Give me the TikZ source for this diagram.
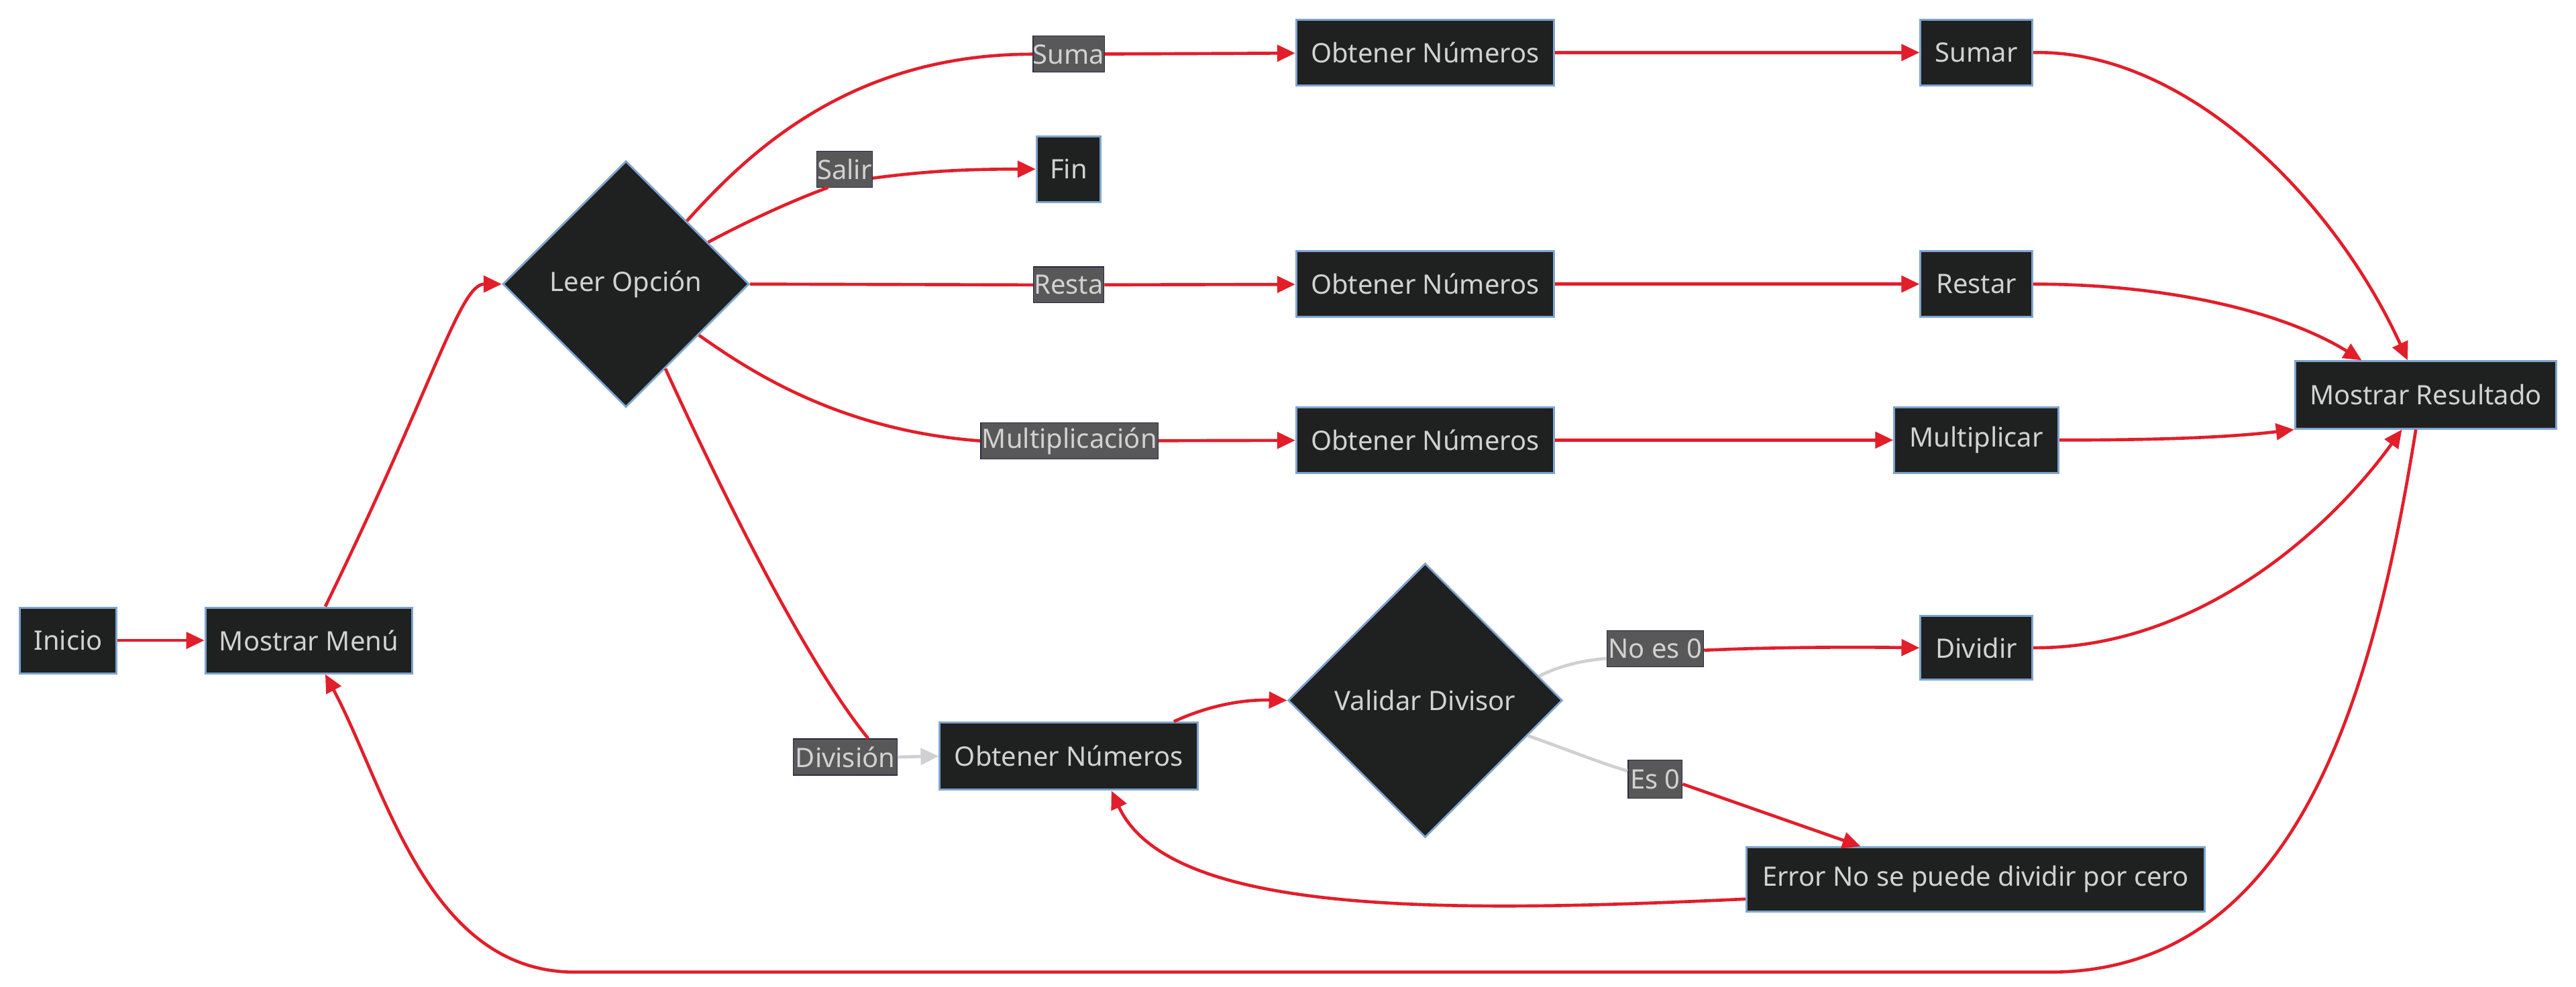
\documentclass[tikz,border=0pt]{standalone}
\usepackage{fontspec}
\setmainfont{Noto Sans}
\usetikzlibrary{shapes.geometric,arrows.meta}
\definecolor{nodefill}{RGB}{31,32,32}
\definecolor{nodeline}{RGB}{126,164,206}
\definecolor{labelfill}{RGB}{88,88,88}
\definecolor{labelline}{RGB}{40,42,70}
\definecolor{txt}{RGB}{210,210,210}
\definecolor{flow}{RGB}{226,30,42}
\definecolor{flowgray}{RGB}{208,208,210}

\begin{document}
\begin{tikzpicture}[x=1pt,y=-1pt,
  font=\fontsize{16.3}{18}\selectfont,
  box/.style={draw=nodeline,line width=1.2pt,fill=nodefill,text=txt,
    inner sep=0pt,minimum height=40pt},
  decision/.style={diamond,aspect=1,draw=nodeline,line width=1.2pt,
    fill=nodefill,text=txt,inner sep=0pt},
  lbl/.style={draw=labelline,line width=0.5pt,fill=labelfill,text=txt,
    inner sep=0pt,minimum height=22pt},
  flowseg/.style={draw=flow,line width=1.9pt},
  flowline/.style={flowseg,-{Triangle[length=11pt,width=10pt]}},
  grayseg/.style={draw=flowgray,line width=1.9pt},
  grayline/.style={grayseg,-{Triangle[length=11pt,width=10pt]}}
]
\useasboundingbox (0,0) rectangle (1568,601);

% ---- nodes ----
\node[box,minimum width=59pt] (ini) at (41.5,390) {Inicio};
\node[box,minimum width=126pt] (menu) at (188,390) {Mostrar Menú};
\node[decision,minimum width=150pt,minimum height=150pt] (leer) at (381,173) {Leer Opción};

\node[lbl,minimum width=43pt] (suma) at (650.5,33) {Suma};
\node[box,minimum width=157pt] (obt1) at (867.5,32) {Obtener Números};
\node[box,minimum width=68pt] (sumar) at (1203,32) {Sumar};

\node[lbl,minimum width=34pt] (salir) at (514,103) {Salir};
\node[box,minimum width=39pt] (fin) at (650.5,103) {Fin};

\node[lbl,minimum width=43pt] (resta) at (650.5,173.5) {Resta};
\node[box,minimum width=157pt] (obt2) at (867.5,173) {Obtener Números};
\node[box,minimum width=68pt] (restar) at (1203,173) {Restar};

\node[lbl,minimum width=108pt] (mult) at (651,268.5) {Multiplicación};
\node[box,minimum width=157pt] (obt3) at (867.5,268) {Obtener Números};
\node[box,minimum width=100pt] (multi) at (1203,268) {Multiplicar};

\node[box,minimum width=159pt,minimum height=41pt] (res) at (1476.5,240.5) {Mostrar Resultado};

\node[lbl,minimum width=63pt] (divl) at (514.5,461) {División};
\node[box,minimum width=157pt,minimum height=41pt] (obt4) at (650.5,460.5) {Obtener Números};
\node[decision,minimum width=167pt,minimum height=167pt] (val) at (867.5,426.5) {Validar Divisor};
\node[lbl,minimum width=59pt] (noes) at (1007.5,395) {No es 0};
\node[box,minimum width=68pt,minimum height=39pt] (div) at (1203,394.5) {Dividir};
\node[lbl,minimum width=33pt,minimum height=23pt] (es) at (1007.5,474.5) {Es 0};
\node[box,minimum width=279pt,minimum height=39pt] (err) at (1202.5,535.5) {Error No se puede dividir por cero};

% ---- connectors ----
\draw[flowline] (ini) -- (menu);
\draw[flowline] ([xshift=10pt]menu.north) .. controls (265,232) and (280,173) .. (leer.west);

\draw[flowseg] (leer.46) .. controls (458,90) and (520,33) .. (suma.west);
\draw[flowline] (suma) -- (obt1);
\draw[flowseg] (leer.27) .. controls (460,132) and (488,120) .. ([xshift=-10pt]salir.south);
\draw[flowline] ([yshift=-5.5pt]salir.east) .. controls (565,104) and (590,103) .. (fin.west);
\draw[flowseg] (leer.east) -- (resta.west);
\draw[flowline] (resta) -- (obt2);
\draw[flowseg] (leer.-35) .. controls (455,225) and (510,262) .. (mult.west);
\draw[flowline] (mult) -- (obt3);
\draw[flowseg] (leer.-65) .. controls (435,290) and (488,400) .. ([xshift=14pt]divl.north);
\draw[grayline] (divl.east) -- (obt4.west);

\draw[flowline] (obt1) -- (sumar);
\draw[flowline] (obt2) -- (restar);
\draw[flowline] (obt3) -- (multi);

\draw[flowline] (sumar.east) .. controls (1330,30) and (1420,120) .. ([xshift=-11pt]res.north);
\draw[flowline] (restar.east) .. controls (1320,173) and (1390,190) .. ([xshift=-39pt]res.north);
\draw[flowline] (multi.east) .. controls (1320,268) and (1360,266) .. (res.south west);

\draw[flowline] ([xshift=64pt]obt4.north) .. controls (735,430) and (755,426) .. (val.west);
\draw[grayseg] (val.12) .. controls (950,405) and (965,402) .. ([yshift=-6pt]noes.west);
\draw[flowline] ([yshift=-1pt]noes.east) .. controls (1080,394) and (1130,394) .. (div.west);
\draw[grayseg] (val.-19) .. controls (950,455) and (975,465) .. ([yshift=5pt]es.west);
\draw[flowline] ([yshift=-3pt]es.east) -- ([xshift=-70pt]err.north);

\draw[flowline] (div.east) .. controls (1340,395) and (1420,320) .. ([xshift=-14.5pt]res.south);
\draw[flowline] ([yshift=-12pt]err.west) .. controls (880,556) and (712,558) .. ([xshift=26pt]obt4.south);
\draw[flowline] ([xshift=-6pt]res.south) .. controls (1445,420) and (1400,590) .. (1250,592)
  -- (350,592) .. controls (260,592) and (235,480) .. ([xshift=10pt]menu.south);
\end{tikzpicture}
\end{document}
